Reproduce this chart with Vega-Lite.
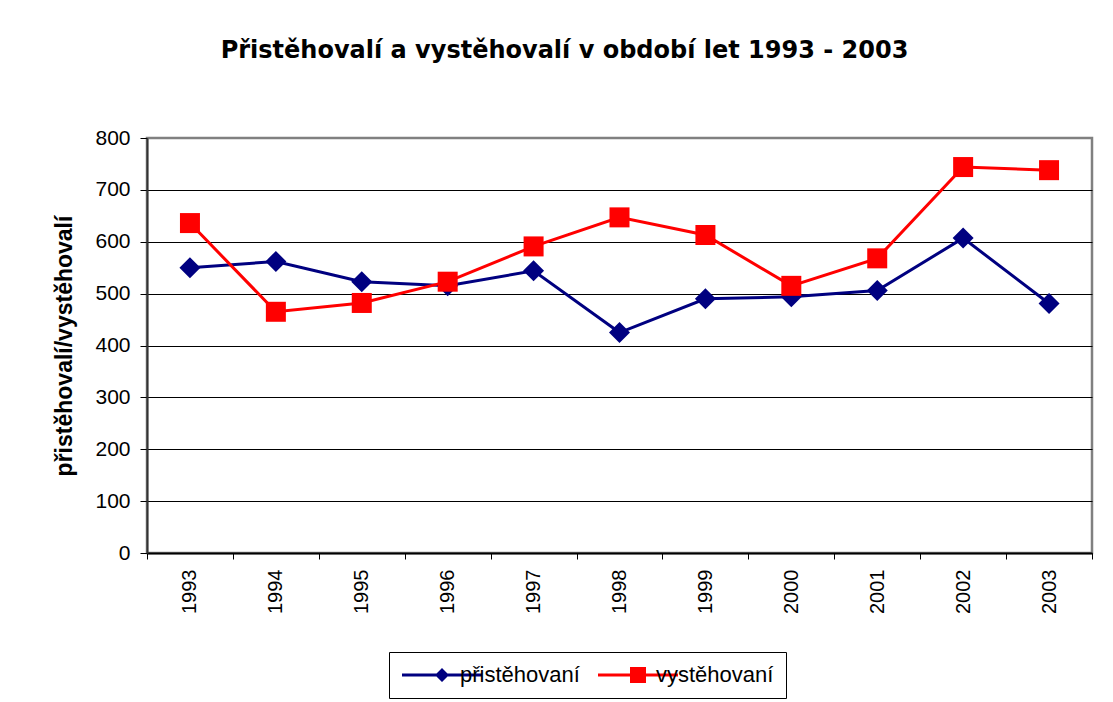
{
  "$schema": "https://vega.github.io/schema/vega-lite/v6.json",
  "width": 945,
  "height": 415,
  "autosize": {"type": "none"},
  "padding": {"left": 147, "top": 138, "right": 21, "bottom": 149},
  "background": "#ffffff",
  "title": {
    "text": "Přistěhovalí a vystěhovalí v období let 1993 - 2003",
    "font": "DejaVu Sans",
    "fontSize": 24,
    "fontWeight": "bold",
    "color": "#000000",
    "anchor": "middle",
    "frame": "group",
    "dx": -55,
    "baseline": "alphabetic",
    "offset": 45
  },
  "data": {
    "values": [
      {"rok": "1993", "serie": "přistěhovaní", "pocet": 550},
      {"rok": "1994", "serie": "přistěhovaní", "pocet": 562},
      {"rok": "1995", "serie": "přistěhovaní", "pocet": 523},
      {"rok": "1996", "serie": "přistěhovaní", "pocet": 515},
      {"rok": "1997", "serie": "přistěhovaní", "pocet": 544},
      {"rok": "1998", "serie": "přistěhovaní", "pocet": 425},
      {"rok": "1999", "serie": "přistěhovaní", "pocet": 490},
      {"rok": "2000", "serie": "přistěhovaní", "pocet": 494},
      {"rok": "2001", "serie": "přistěhovaní", "pocet": 506},
      {"rok": "2002", "serie": "přistěhovaní", "pocet": 607},
      {"rok": "2003", "serie": "přistěhovaní", "pocet": 481},
      {"rok": "1993", "serie": "vystěhovaní", "pocet": 636},
      {"rok": "1994", "serie": "vystěhovaní", "pocet": 465},
      {"rok": "1995", "serie": "vystěhovaní", "pocet": 482},
      {"rok": "1996", "serie": "vystěhovaní", "pocet": 523},
      {"rok": "1997", "serie": "vystěhovaní", "pocet": 591},
      {"rok": "1998", "serie": "vystěhovaní", "pocet": 647},
      {"rok": "1999", "serie": "vystěhovaní", "pocet": 613},
      {"rok": "2000", "serie": "vystěhovaní", "pocet": 515},
      {"rok": "2001", "serie": "vystěhovaní", "pocet": 568},
      {"rok": "2002", "serie": "vystěhovaní", "pocet": 744},
      {"rok": "2003", "serie": "vystěhovaní", "pocet": 738}
    ]
  },
  "encoding": {
    "x": {
      "field": "rok",
      "type": "ordinal",
      "scale": {"paddingInner": 0, "paddingOuter": 0},
      "axis": {
        "title": null,
        "labelAngle": -90,
        "labelFont": "Liberation Sans",
        "labelFontSize": 20,
        "labelColor": "#000000",
        "labelPadding": 10,
        "tickSize": 6,
        "tickColor": "#000000",
        "tickBand": "extent",
        "domainColor": "#000000",
        "domainWidth": 2,
        "grid": false
      }
    },
    "y": {
      "field": "pocet",
      "type": "quantitative",
      "scale": {"domain": [0, 800], "nice": false},
      "axis": {
        "title": "přistěhovalí/vystěhovalí",
        "titleFont": "Liberation Sans",
        "titleFontSize": 23,
        "titleFontWeight": "bold",
        "titleColor": "#000000",
        "titlePadding": 18,
        "values": [0, 100, 200, 300, 400, 500, 600, 700, 800],
        "labelFont": "Liberation Sans",
        "labelFontSize": 21,
        "labelColor": "#000000",
        "labelPadding": 10,
        "tickSize": 7,
        "tickColor": "#000000",
        "domainColor": "#333333",
        "domainWidth": 2,
        "grid": true,
        "gridColor": {"condition": {"test": "datum.value === 800", "value": "#808080"}, "value": "#000000"},
        "gridWidth": 1
      }
    }
  },
  "layer": [
    {
      "mark": {"type": "line", "strokeWidth": 3},
      "encoding": {
        "stroke": {
          "field": "serie",
          "type": "nominal",
          "scale": {"range": ["#000080", "#ff0000"]},
          "legend": null
        }
      }
    },
    {
      "transform": [{"filter": "datum.serie === 'přistěhovaní'"}],
      "mark": {"type": "point", "shape": "diamond", "filled": true, "color": "#000080", "size": 441, "opacity": 1},
      "encoding": {}
    },
    {
      "transform": [{"filter": "datum.serie === 'vystěhovaní'"}],
      "mark": {"type": "point", "shape": "square", "filled": true, "color": "#ff0000", "size": 400, "opacity": 1},
      "encoding": {}
    },
    {
      "mark": {"type": "point", "filled": true, "size": 0, "opacity": 1},
      "encoding": {
        "color": {
          "field": "serie",
          "type": "nominal",
          "scale": {"domain": ["přistěhovaní", "vystěhovaní"], "range": ["#000080", "#ff0000"]},
          "legend": {"title": null, "orient": "none", "legendX": 242, "legendY": 514, "direction": "horizontal"}
        },
        "shape": {
          "field": "serie",
          "type": "nominal",
          "scale": {
            "domain": ["přistěhovaní", "vystěhovaní"],
            "range": [
              "M-4,-0.15H-0.55L0,-0.7L0.55,-0.15H4V0.15H0.55L0,0.7L-0.55,0.15H-4Z",
              "M-4,-0.15H-0.8V-0.8H0.8V-0.15H4V0.15H0.8V0.8H-0.8V0.15H-4Z"
            ]
          },
          "legend": {"title": null, "orient": "none", "legendX": 242, "legendY": 514, "direction": "horizontal"}
        }
      }
    }
  ],
  "config": {
    "view": {"stroke": "#808080", "strokeWidth": 2.5},
    "axis": {"tickWidth": 1},
    "legend": {
      "strokeColor": "#000000",
      "padding": 12,
      "symbolSize": 400,
      "symbolStrokeWidth": 0,
      "symbolOffset": 30,
      "labelOffset": 7,
      "labelFont": "Liberation Sans",
      "labelFontSize": 22,
      "labelColor": "#000000",
      "columnPadding": 17
    }
  }
}
